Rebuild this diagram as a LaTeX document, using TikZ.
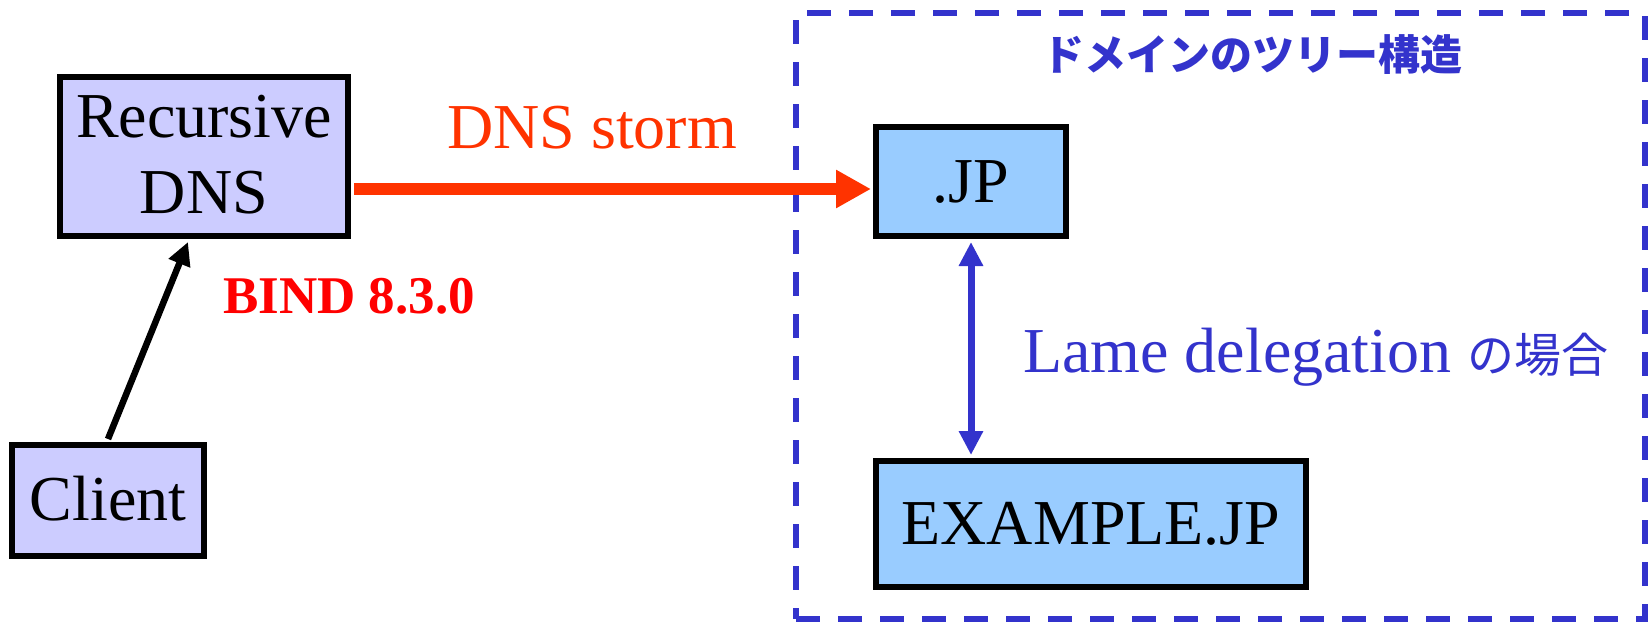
\documentclass[tikz,border=0pt]{standalone}
\usepackage{fontspec}
\setmainfont{Liberation Serif}
\newfontfamily\cjk{Noto Sans CJK JP}
\usetikzlibrary{arrows.meta}
\definecolor{rdnsfill}{HTML}{CCCCFF}
\definecolor{jpfill}{HTML}{99CCFF}
\definecolor{dblue}{HTML}{3333CC}
\definecolor{stormred}{HTML}{FF3300}
\definecolor{bindred}{HTML}{FF0000}
\begin{document}
\begin{tikzpicture}[x=1pt,y=-1pt,
  boxbase/.style={draw=black, line width=6pt, inner sep=0pt, font=\fontsize{64}{76}\selectfont},
  rbox/.style={boxbase, fill=rdnsfill},
  jbox/.style={boxbase, fill=jpfill},
  lbl/.style={inner sep=0pt, anchor=base west}]
\useasboundingbox (0,0) rectangle (1649,622);
\fill[white] (0,0) rectangle (1649,622);
% dashed frame
\node[draw=dblue, line width=6pt, dash pattern=on 24pt off 18pt, inner sep=0pt,
      minimum width=848.5pt, minimum height=606pt] (tree) at (1220.25,316) {};
% boxes
\node[rbox, minimum width=288pt, minimum height=159pt, align=center] (rdns) at (204,156.5) {Recursive\\DNS\rule[-5pt]{0pt}{5pt}};
\node[rbox, minimum width=192pt, minimum height=111pt] (client) at (108,500.5) {Client\rule[-5pt]{0pt}{5pt}};
\node[jbox, minimum width=190pt, minimum height=109pt] (jp) at (971,181.5) {.JP};
\node[jbox, minimum width=430pt, minimum height=126pt] (ex) at (1091,524) {EXAMPLE.JP};
% connectors
\coordinate (ry) at (0,189);
\draw[stormred, line width=12pt, -{Triangle[length=35pt,width=36pt]}, shorten <=3pt, shorten >=2pt]
  (rdns.east |- ry) -- (jp.west |- ry);
\draw[black, line width=6.5pt, -{Triangle[length=23pt,width=22pt]}]
  ([yshift=3pt]client.north) -- ([xshift=-16pt,yshift=-3pt]rdns.south);
\coordinate (extop) at (jp.south |- ex.north);
\draw[dblue, line width=7pt, {Triangle[length=24pt,width=23pt]}-{Triangle[length=24pt,width=23pt]}]
  ([yshift=-3pt]jp.south) -- ([yshift=3pt]extop);
% labels
\node[lbl, text=stormred, font=\fontsize{64}{70}\selectfont] (storm) at (447,148) {DNS storm};
\node[lbl, text=bindred, font=\fontsize{53}{60}\selectfont\bfseries] (bind) at (223,313) {BIND 8.3.0};
\node[inner sep=0pt, text=dblue, font=\cjk\bfseries\fontsize{42}{48}\selectfont] (title) at (1252,55) {ドメインのツリー構造};
\node[lbl, text=dblue, font=\fontsize{64}{70}\selectfont] (lame) at (1023,372) {Lame delegation {\cjk\fontsize{47}{50}\selectfont の場合}};
\end{tikzpicture}
\end{document}
